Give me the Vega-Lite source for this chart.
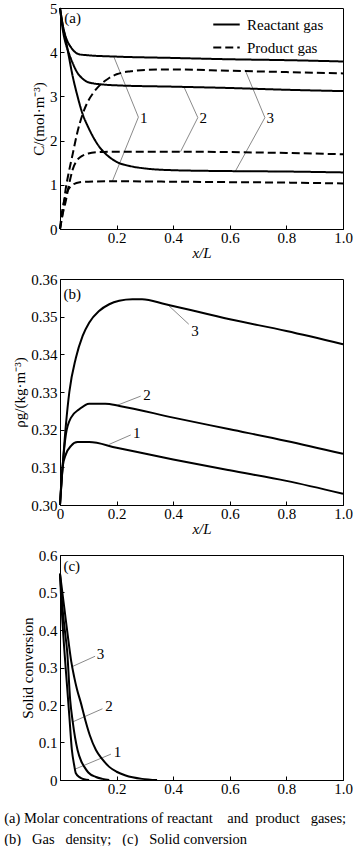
{
  "$schema": "https://vega.github.io/schema/vega-lite/v6.json",
  "padding": {"left": 4, "right": 5, "top": 0, "bottom": 0},
  "background": "white",
  "datasets": {
    "a": [
      {"x": 0, "y": 5, "curve": "R1", "type": "Reactant gas"},
      {"x": 0.01, "y": 4.6, "curve": "R1", "type": "Reactant gas"},
      {"x": 0.02, "y": 4.35, "curve": "R1", "type": "Reactant gas"},
      {"x": 0.03, "y": 4.2, "curve": "R1", "type": "Reactant gas"},
      {"x": 0.04, "y": 4.1, "curve": "R1", "type": "Reactant gas"},
      {"x": 0.05, "y": 4.02, "curve": "R1", "type": "Reactant gas"},
      {"x": 0.07, "y": 3.95, "curve": "R1", "type": "Reactant gas"},
      {"x": 0.1, "y": 3.93, "curve": "R1", "type": "Reactant gas"},
      {"x": 0.2, "y": 3.9, "curve": "R1", "type": "Reactant gas"},
      {"x": 0.4, "y": 3.87, "curve": "R1", "type": "Reactant gas"},
      {"x": 0.6, "y": 3.84, "curve": "R1", "type": "Reactant gas"},
      {"x": 0.8, "y": 3.82, "curve": "R1", "type": "Reactant gas"},
      {"x": 1, "y": 3.79, "curve": "R1", "type": "Reactant gas"},
      {"x": 0, "y": 5, "curve": "R2", "type": "Reactant gas"},
      {"x": 0.01, "y": 4.5, "curve": "R2", "type": "Reactant gas"},
      {"x": 0.02, "y": 4.2, "curve": "R2", "type": "Reactant gas"},
      {"x": 0.03, "y": 4.0, "curve": "R2", "type": "Reactant gas"},
      {"x": 0.045, "y": 3.75, "curve": "R2", "type": "Reactant gas"},
      {"x": 0.06, "y": 3.55, "curve": "R2", "type": "Reactant gas"},
      {"x": 0.08, "y": 3.4, "curve": "R2", "type": "Reactant gas"},
      {"x": 0.1, "y": 3.32, "curve": "R2", "type": "Reactant gas"},
      {"x": 0.15, "y": 3.27, "curve": "R2", "type": "Reactant gas"},
      {"x": 0.2, "y": 3.25, "curve": "R2", "type": "Reactant gas"},
      {"x": 0.4, "y": 3.22, "curve": "R2", "type": "Reactant gas"},
      {"x": 0.6, "y": 3.19, "curve": "R2", "type": "Reactant gas"},
      {"x": 0.8, "y": 3.15, "curve": "R2", "type": "Reactant gas"},
      {"x": 1, "y": 3.12, "curve": "R2", "type": "Reactant gas"},
      {"x": 0, "y": 5, "curve": "R3", "type": "Reactant gas"},
      {"x": 0.01, "y": 4.6, "curve": "R3", "type": "Reactant gas"},
      {"x": 0.02, "y": 4.3, "curve": "R3", "type": "Reactant gas"},
      {"x": 0.03, "y": 3.95, "curve": "R3", "type": "Reactant gas"},
      {"x": 0.045, "y": 3.45, "curve": "R3", "type": "Reactant gas"},
      {"x": 0.06, "y": 3.05, "curve": "R3", "type": "Reactant gas"},
      {"x": 0.08, "y": 2.6, "curve": "R3", "type": "Reactant gas"},
      {"x": 0.1, "y": 2.3, "curve": "R3", "type": "Reactant gas"},
      {"x": 0.12, "y": 2.05, "curve": "R3", "type": "Reactant gas"},
      {"x": 0.14, "y": 1.85, "curve": "R3", "type": "Reactant gas"},
      {"x": 0.17, "y": 1.65, "curve": "R3", "type": "Reactant gas"},
      {"x": 0.2, "y": 1.52, "curve": "R3", "type": "Reactant gas"},
      {"x": 0.25, "y": 1.42, "curve": "R3", "type": "Reactant gas"},
      {"x": 0.3, "y": 1.37, "curve": "R3", "type": "Reactant gas"},
      {"x": 0.4, "y": 1.33, "curve": "R3", "type": "Reactant gas"},
      {"x": 0.6, "y": 1.31, "curve": "R3", "type": "Reactant gas"},
      {"x": 0.8, "y": 1.3, "curve": "R3", "type": "Reactant gas"},
      {"x": 1, "y": 1.28, "curve": "R3", "type": "Reactant gas"},
      {"x": 0, "y": 0, "curve": "P1", "type": "Product gas"},
      {"x": 0.005, "y": 0.3, "curve": "P1", "type": "Product gas"},
      {"x": 0.01, "y": 0.5, "curve": "P1", "type": "Product gas"},
      {"x": 0.02, "y": 0.75, "curve": "P1", "type": "Product gas"},
      {"x": 0.03, "y": 0.9, "curve": "P1", "type": "Product gas"},
      {"x": 0.045, "y": 1.0, "curve": "P1", "type": "Product gas"},
      {"x": 0.07, "y": 1.06, "curve": "P1", "type": "Product gas"},
      {"x": 0.1, "y": 1.07, "curve": "P1", "type": "Product gas"},
      {"x": 0.2, "y": 1.08, "curve": "P1", "type": "Product gas"},
      {"x": 0.4, "y": 1.07, "curve": "P1", "type": "Product gas"},
      {"x": 0.6, "y": 1.06, "curve": "P1", "type": "Product gas"},
      {"x": 0.8, "y": 1.05, "curve": "P1", "type": "Product gas"},
      {"x": 1, "y": 1.03, "curve": "P1", "type": "Product gas"},
      {"x": 0, "y": 0, "curve": "P2", "type": "Product gas"},
      {"x": 0.01, "y": 0.35, "curve": "P2", "type": "Product gas"},
      {"x": 0.02, "y": 0.62, "curve": "P2", "type": "Product gas"},
      {"x": 0.03, "y": 0.95, "curve": "P2", "type": "Product gas"},
      {"x": 0.045, "y": 1.35, "curve": "P2", "type": "Product gas"},
      {"x": 0.06, "y": 1.55, "curve": "P2", "type": "Product gas"},
      {"x": 0.08, "y": 1.66, "curve": "P2", "type": "Product gas"},
      {"x": 0.1, "y": 1.71, "curve": "P2", "type": "Product gas"},
      {"x": 0.14, "y": 1.74, "curve": "P2", "type": "Product gas"},
      {"x": 0.2, "y": 1.75, "curve": "P2", "type": "Product gas"},
      {"x": 0.4, "y": 1.75, "curve": "P2", "type": "Product gas"},
      {"x": 0.6, "y": 1.74, "curve": "P2", "type": "Product gas"},
      {"x": 0.8, "y": 1.72, "curve": "P2", "type": "Product gas"},
      {"x": 1, "y": 1.69, "curve": "P2", "type": "Product gas"},
      {"x": 0, "y": 0, "curve": "P3", "type": "Product gas"},
      {"x": 0.01, "y": 0.4, "curve": "P3", "type": "Product gas"},
      {"x": 0.02, "y": 0.9, "curve": "P3", "type": "Product gas"},
      {"x": 0.03, "y": 1.25, "curve": "P3", "type": "Product gas"},
      {"x": 0.045, "y": 1.7, "curve": "P3", "type": "Product gas"},
      {"x": 0.06, "y": 2.15, "curve": "P3", "type": "Product gas"},
      {"x": 0.08, "y": 2.6, "curve": "P3", "type": "Product gas"},
      {"x": 0.1, "y": 2.9, "curve": "P3", "type": "Product gas"},
      {"x": 0.12, "y": 3.1, "curve": "P3", "type": "Product gas"},
      {"x": 0.14, "y": 3.25, "curve": "P3", "type": "Product gas"},
      {"x": 0.17, "y": 3.4, "curve": "P3", "type": "Product gas"},
      {"x": 0.2, "y": 3.5, "curve": "P3", "type": "Product gas"},
      {"x": 0.25, "y": 3.57, "curve": "P3", "type": "Product gas"},
      {"x": 0.3, "y": 3.6, "curve": "P3", "type": "Product gas"},
      {"x": 0.4, "y": 3.61, "curve": "P3", "type": "Product gas"},
      {"x": 0.6, "y": 3.58, "curve": "P3", "type": "Product gas"},
      {"x": 0.8, "y": 3.55, "curve": "P3", "type": "Product gas"},
      {"x": 1, "y": 3.52, "curve": "P3", "type": "Product gas"}
    ],
    "aLead": [
      {"g": "1", "o": 1, "x": 0.19, "y": 3.9},
      {"g": "1", "o": 2, "x": 0.277, "y": 2.53},
      {"g": "1", "o": 3, "x": 0.185, "y": 1.08},
      {"g": "2", "o": 1, "x": 0.437, "y": 3.23},
      {"g": "2", "o": 2, "x": 0.487, "y": 2.52},
      {"g": "2", "o": 3, "x": 0.426, "y": 1.75},
      {"g": "3", "o": 1, "x": 0.654, "y": 3.6},
      {"g": "3", "o": 2, "x": 0.724, "y": 2.52},
      {"g": "3", "o": 3, "x": 0.619, "y": 1.3}
    ],
    "aLab": [
      {"x": 0.015, "y": 4.78, "t": "(a)"},
      {"x": 0.283, "y": 2.52, "t": "1"},
      {"x": 0.493, "y": 2.52, "t": "2"},
      {"x": 0.73, "y": 2.52, "t": "3"}
    ],
    "b": [
      {"x": 0, "y": 0.3, "curve": "1"},
      {"x": 0.009, "y": 0.31, "curve": "1"},
      {"x": 0.021, "y": 0.3135, "curve": "1"},
      {"x": 0.039, "y": 0.3157, "curve": "1"},
      {"x": 0.062, "y": 0.3167, "curve": "1"},
      {"x": 0.103, "y": 0.3167, "curve": "1"},
      {"x": 0.2, "y": 0.3152, "curve": "1"},
      {"x": 0.4, "y": 0.3121, "curve": "1"},
      {"x": 0.6, "y": 0.3092, "curve": "1"},
      {"x": 0.8, "y": 0.3064, "curve": "1"},
      {"x": 1, "y": 0.303, "curve": "1"},
      {"x": 0, "y": 0.3, "curve": "2"},
      {"x": 0.009, "y": 0.31, "curve": "2"},
      {"x": 0.021, "y": 0.3188, "curve": "2"},
      {"x": 0.039, "y": 0.3232, "curve": "2"},
      {"x": 0.068, "y": 0.3254, "curve": "2"},
      {"x": 0.103, "y": 0.3269, "curve": "2"},
      {"x": 0.16, "y": 0.3269, "curve": "2"},
      {"x": 0.21, "y": 0.3263, "curve": "2"},
      {"x": 0.4, "y": 0.3232, "curve": "2"},
      {"x": 0.6, "y": 0.3201, "curve": "2"},
      {"x": 0.8, "y": 0.317, "curve": "2"},
      {"x": 1, "y": 0.3136, "curve": "2"},
      {"x": 0, "y": 0.3, "curve": "3"},
      {"x": 0.021, "y": 0.3214, "curve": "3"},
      {"x": 0.033, "y": 0.33, "curve": "3"},
      {"x": 0.056, "y": 0.339, "curve": "3"},
      {"x": 0.08, "y": 0.3449, "curve": "3"},
      {"x": 0.103, "y": 0.3484, "curve": "3"},
      {"x": 0.138, "y": 0.3515, "curve": "3"},
      {"x": 0.174, "y": 0.3533, "curve": "3"},
      {"x": 0.209, "y": 0.3542, "curve": "3"},
      {"x": 0.256, "y": 0.3546, "curve": "3"},
      {"x": 0.29, "y": 0.3546, "curve": "3"},
      {"x": 0.373, "y": 0.3533, "curve": "3"},
      {"x": 0.6, "y": 0.3493, "curve": "3"},
      {"x": 0.8, "y": 0.3462, "curve": "3"},
      {"x": 1, "y": 0.3427, "curve": "3"}
    ],
    "bLead": [
      {"g": "1", "o": 1, "x": 0.174, "y": 0.3161},
      {"g": "1", "o": 2, "x": 0.25, "y": 0.3186},
      {"g": "2", "o": 1, "x": 0.203, "y": 0.3265},
      {"g": "2", "o": 2, "x": 0.285, "y": 0.3289},
      {"g": "3", "o": 1, "x": 0.379, "y": 0.3533},
      {"g": "3", "o": 2, "x": 0.455, "y": 0.348}
    ],
    "bLab": [
      {"x": 0.012, "y": 0.3559, "t": "(b)"},
      {"x": 0.258, "y": 0.3191, "t": "1"},
      {"x": 0.294, "y": 0.3292, "t": "2"},
      {"x": 0.464, "y": 0.3462, "t": "3"}
    ],
    "c": [
      {"x": 0, "y": 0.55, "curve": "1"},
      {"x": 0.005, "y": 0.47, "curve": "1"},
      {"x": 0.015, "y": 0.35, "curve": "1"},
      {"x": 0.025, "y": 0.25, "curve": "1"},
      {"x": 0.033, "y": 0.17, "curve": "1"},
      {"x": 0.042, "y": 0.08, "curve": "1"},
      {"x": 0.05, "y": 0.04, "curve": "1"},
      {"x": 0.056, "y": 0.018, "curve": "1"},
      {"x": 0.07, "y": 0.007, "curve": "1"},
      {"x": 0.085, "y": 0.002, "curve": "1"},
      {"x": 0.103, "y": 0, "curve": "1"},
      {"x": 0, "y": 0.55, "curve": "2"},
      {"x": 0.01, "y": 0.45, "curve": "2"},
      {"x": 0.02, "y": 0.38, "curve": "2"},
      {"x": 0.025, "y": 0.346, "curve": "2"},
      {"x": 0.036, "y": 0.213, "curve": "2"},
      {"x": 0.045, "y": 0.155, "curve": "2"},
      {"x": 0.062, "y": 0.08, "curve": "2"},
      {"x": 0.075, "y": 0.05, "curve": "2"},
      {"x": 0.086, "y": 0.035, "curve": "2"},
      {"x": 0.1, "y": 0.02, "curve": "2"},
      {"x": 0.127, "y": 0.008, "curve": "2"},
      {"x": 0.15, "y": 0.003, "curve": "2"},
      {"x": 0.174, "y": 0, "curve": "2"},
      {"x": 0, "y": 0.55, "curve": "3"},
      {"x": 0.01, "y": 0.49, "curve": "3"},
      {"x": 0.02, "y": 0.43, "curve": "3"},
      {"x": 0.03, "y": 0.37, "curve": "3"},
      {"x": 0.04, "y": 0.315, "curve": "3"},
      {"x": 0.05, "y": 0.275, "curve": "3"},
      {"x": 0.06, "y": 0.242, "curve": "3"},
      {"x": 0.074, "y": 0.205, "curve": "3"},
      {"x": 0.09, "y": 0.158, "curve": "3"},
      {"x": 0.105, "y": 0.12, "curve": "3"},
      {"x": 0.127, "y": 0.08, "curve": "3"},
      {"x": 0.15, "y": 0.055, "curve": "3"},
      {"x": 0.174, "y": 0.035, "curve": "3"},
      {"x": 0.2, "y": 0.022, "curve": "3"},
      {"x": 0.232, "y": 0.012, "curve": "3"},
      {"x": 0.29, "y": 0.003, "curve": "3"},
      {"x": 0.343, "y": 0, "curve": "3"}
    ],
    "cLead": [
      {"g": "1", "o": 1, "x": 0.05, "y": 0.028},
      {"g": "1", "o": 2, "x": 0.18, "y": 0.069},
      {"g": "2", "o": 1, "x": 0.045, "y": 0.155},
      {"g": "2", "o": 2, "x": 0.15, "y": 0.19},
      {"g": "3", "o": 1, "x": 0.042, "y": 0.302},
      {"g": "3", "o": 2, "x": 0.124, "y": 0.33}
    ],
    "cLab": [
      {"x": 0.012, "y": 0.572, "t": "(c)"},
      {"x": 0.19, "y": 0.076, "t": "1"},
      {"x": 0.16, "y": 0.197, "t": "2"},
      {"x": 0.13, "y": 0.335, "t": "3"}
    ]
  },
  "vconcat": [
    {
      "width": 283,
      "height": 221,
      "encoding": {
        "x": {"field": "x", "type": "quantitative", "scale": {"domain": [0, 1], "nice": false},
          "axis": {"title": "x/L", "values": [0, 0.2, 0.4, 0.6, 0.8, 1], "labelExpr": "datum.value == 0 ? '' : format(datum.value, '.1f')", "titleFontStyle": "italic"}},
        "y": {"field": "y", "type": "quantitative", "scale": {"domain": [0, 5], "nice": false},
          "axis": {"title": "C/(mol·m⁻³)", "values": [0, 1, 2, 3, 4, 5], "format": "d"}}
      },
      "layer": [
        {"data": {"name": "aLead"}, "mark": {"type": "line", "stroke": "#8a8a8a", "strokeWidth": 1},
          "encoding": {"detail": {"field": "g"}, "order": {"field": "o"}}},
        {"data": {"name": "a"}, "mark": {"type": "line", "stroke": "black", "strokeWidth": 2, "interpolate": "monotone"},
          "encoding": {"detail": {"field": "curve"},
            "strokeDash": {"field": "type", "type": "nominal", "scale": {"domain": ["Reactant gas", "Product gas"], "range": [[1, 0], [8, 4]]},
              "legend": {"title": null, "orient": "none", "legendX": 152, "legendY": 2, "labelFontSize": 15, "labelFont": "Liberation Serif", "labelColor": "black", "symbolType": "stroke", "symbolStrokeColor": "black", "symbolStrokeWidth": 2, "symbolSize": 700, "rowPadding": -7, "padding": 0, "labelOffset": 6}}}},
        {"data": {"name": "aLab"}, "mark": {"type": "text", "align": "left", "baseline": "middle", "fontSize": 15, "font": "Liberation Serif", "color": "black"},
          "encoding": {"text": {"field": "t"}}}
      ]
    },
    {
      "width": 283,
      "height": 226,
      "encoding": {
        "x": {"field": "x", "type": "quantitative", "scale": {"domain": [0, 1], "nice": false},
          "axis": {"title": "x/L", "values": [0, 0.2, 0.4, 0.6, 0.8, 1], "labelExpr": "datum.value == 0 ? '0' : format(datum.value, '.1f')", "titleFontStyle": "italic"}},
        "y": {"field": "y", "type": "quantitative", "scale": {"domain": [0.3, 0.36], "nice": false, "zero": false},
          "axis": {"title": "ρg/(kg·m⁻³)", "values": [0.3, 0.31, 0.32, 0.33, 0.34, 0.35, 0.36], "format": ".2f"}}
      },
      "layer": [
        {"data": {"name": "bLead"}, "mark": {"type": "line", "stroke": "#8a8a8a", "strokeWidth": 1},
          "encoding": {"detail": {"field": "g"}, "order": {"field": "o"}}},
        {"data": {"name": "b"}, "mark": {"type": "line", "stroke": "black", "strokeWidth": 2, "interpolate": "monotone"},
          "encoding": {"detail": {"field": "curve"}}},
        {"data": {"name": "bLab"}, "mark": {"type": "text", "align": "left", "baseline": "middle", "fontSize": 15, "font": "Liberation Serif", "color": "black"},
          "encoding": {"text": {"field": "t"}}}
      ]
    },
    {
      "width": 283,
      "height": 225,
      "encoding": {
        "x": {"field": "x", "type": "quantitative", "scale": {"domain": [0, 1], "nice": false},
          "axis": {"title": null, "values": [0, 0.2, 0.4, 0.6, 0.8, 1], "labelExpr": "datum.value == 0 ? '' : format(datum.value, '.1f')"}},
        "y": {"field": "y", "type": "quantitative", "scale": {"domain": [0, 0.6], "nice": false},
          "axis": {"title": "Solid conversion", "values": [0, 0.1, 0.2, 0.3, 0.4, 0.5, 0.6], "labelExpr": "datum.value == 0 ? '0' : format(datum.value, '.1f')"}}
      },
      "layer": [
        {"data": {"name": "cLead"}, "mark": {"type": "line", "stroke": "#8a8a8a", "strokeWidth": 1},
          "encoding": {"detail": {"field": "g"}, "order": {"field": "o"}}},
        {"data": {"name": "c"}, "mark": {"type": "line", "stroke": "black", "strokeWidth": 2, "interpolate": "monotone"},
          "encoding": {"detail": {"field": "curve"}}},
        {"data": {"name": "cLab"}, "mark": {"type": "text", "align": "left", "baseline": "middle", "fontSize": 15, "font": "Liberation Serif", "color": "black"},
          "encoding": {"text": {"field": "t"}}}
      ]
    }
  ],
  "spacing": 50,
  "bounds": "flush",
  "title": {
    "text": ["(a) Molar concentrations of reactant \u2002\u2005and \u2005product \u2002gases;", "(b) \u2002Gas \u2002density; \u2002(c) \u2002Solid conversion"],
    "orient": "bottom", "anchor": "start", "fontSize": 14.5, "font": "Liberation Serif", "fontWeight": "normal", "color": "black", "lineHeight": 21, "offset": 15, "dx": -8
  },
  "config": {
    "font": "Liberation Serif",
    "view": {"stroke": "black", "strokeWidth": 1},
    "axis": {"grid": false, "domainColor": "black", "tickColor": "black", "tickSize": -4, "labelPadding": 7, "labelFontSize": 15, "labelColor": "black", "labelFont": "Liberation Serif", "titleFont": "Liberation Serif", "titleFontSize": 15, "titleColor": "black", "titleFontWeight": "normal", "titlePadding": 3, "labelOverlap": false, "labelFlush": false},
    "axisX": {"labelPadding": 5, "titlePadding": 0}
  }
}
